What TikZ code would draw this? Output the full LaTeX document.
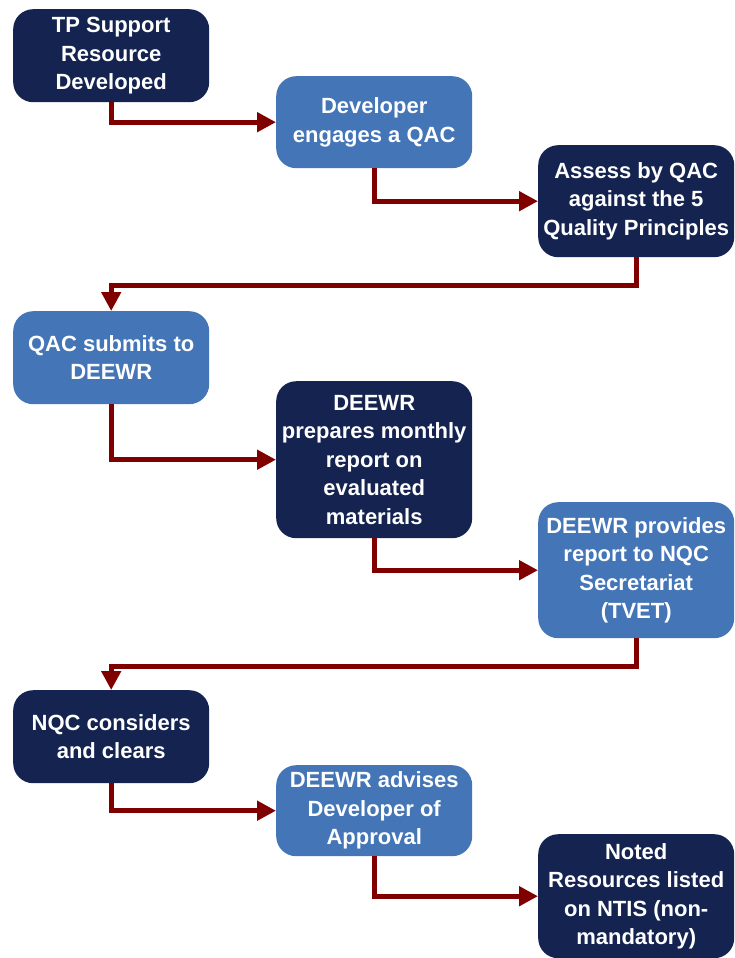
\documentclass[tikz,border=0pt]{standalone}
\usepackage{fontspec}
\setmainfont{Liberation Sans}
\usepackage{xcolor}
\usetikzlibrary{arrows.meta,positioning}
\definecolor{navy}{RGB}{20,35,80}
\definecolor{midblue}{RGB}{67,117,183}
\definecolor{darkred}{RGB}{128,0,0}

\begin{document}
\begin{tikzpicture}[
  x=1pt,y=-1pt,
  font=\fontsize{22}{28.5}\selectfont\bfseries,
  box/.style={rounded corners=20pt,align=center,inner sep=0pt,text=white,
    minimum width=196pt,anchor=north west,
    execute at begin node={\mbox{}\\[-20pt]}},
  darkbox/.style={box,fill=navy},
  lightbox/.style={box,fill=midblue},
  flow/.style={-{Triangle[length=19pt,width=19pt]},line width=5pt,darkred}
]
\useasboundingbox (0,0) rectangle (734,958);
\node[darkbox,minimum height=93pt] (tp) at (13,9) {TP Support\\Resource\\Developed};
\node[lightbox,minimum height=92pt] (engage) at (276,76) {Developer\\engages a QAC};
\node[darkbox,minimum height=112pt] (assess) at (538,145) {Assess by QAC\\against the 5\\Quality Principles};
\node[lightbox,minimum height=93pt] (submit) at (13,311) {QAC submits to\\DEEWR};
\node[darkbox,minimum height=157pt] (monthly) at (276,381) {DEEWR\\prepares monthly\\report on\\evaluated\\materials};
\node[lightbox,minimum height=136pt] (provide) at (538,502) {DEEWR provides\\report to NQC\\Secretariat\\(TVET)};
\node[darkbox,minimum height=93pt] (clear) at (13,690) {NQC considers\\and clears};
\node[lightbox,minimum height=91pt] (advise) at (276,765) {DEEWR advises\\Developer of\\Approval};
\node[darkbox,minimum height=124pt] (ntis) at (538,834) {Noted\\Resources listed\\on NTIS (non-\\mandatory)};
\draw[flow] (tp.south) |- (engage.west);
\draw[flow] (engage.south) |- (assess.west);
\draw[flow] (assess.south) -- ++(0,28) -| (submit.north);
\draw[flow] (submit.south) |- (monthly.west);
\draw[flow] (monthly.south) |- (provide.west);
\draw[flow] (provide.south) -- ++(0,28) -| (clear.north);
\draw[flow] (clear.south) |- (advise.west);
\draw[flow] (advise.south) |- (ntis.west);
\end{tikzpicture}
\end{document}
